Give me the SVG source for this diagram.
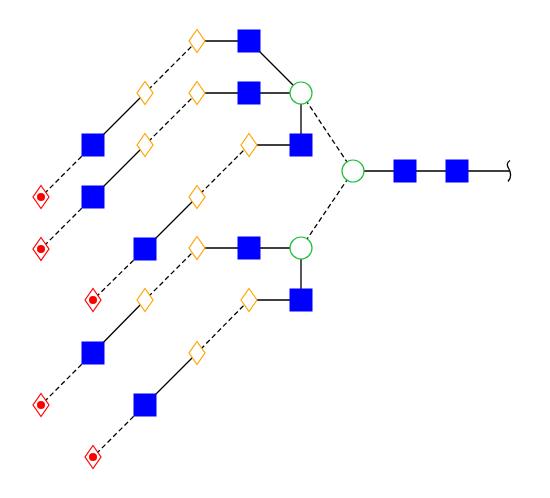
<svg xmlns="http://www.w3.org/2000/svg" width="550" height="498" viewBox="0 0 550 498">
<defs>
<style>
.e{stroke:#000;stroke-width:1.3;fill:none}
.d{stroke-dasharray:5,3}
.sq{fill:#0000ff}
.ci{fill:#fff;stroke:#22c03a;stroke-width:1.2}
.od{fill:#fff;stroke:#ffa500;stroke-width:1.2}
.rd{fill:#fff;stroke:#ff0000;stroke-width:1.2}
.dot{fill:#ff0000}
</style>
<rect id="sqs" class="sq" x="-11.5" y="-11.5" width="23" height="23"/>
<polygon id="dia" points="0,-11.5 8,0 0,11.5 -8,0"/>
</defs>
<rect width="550" height="498" fill="#fff"/>
<g id="connectors">
<path class="e" d="M249,41H197M145,93L93,145M249,41L301,93M249,93H301M249,93H197M145,145L93,197M301,93V145H249M197,197L145,249M353,171H510M301,248H197M145,300L93,353M301,248V300H249M197,353L145,405"/>
<path class="e d" d="M197,41L145,93M93,145L41,197M197,93L145,145M93,197L41,249M249,145L197,197M145,249L93,300M301,93L353,171M353,171L301,248M197,248L145,300M93,353L41,405M249,300L197,353M145,405L93,457"/>
<path class="e" d="M510,160.5C506,163 507,166 509,169C511,173 512,177 508,181.5" stroke-width="1"/>
</g>
<g id="n1"><use href="#sqs" x="249" y="41"/></g>
<g id="n2"><use href="#sqs" x="249" y="93"/></g>
<g id="n3"><use href="#sqs" x="301" y="145"/></g>
<g id="n4"><use href="#sqs" x="249" y="248"/></g>
<g id="n5"><use href="#sqs" x="301" y="300"/></g>
<g id="n6"><use href="#sqs" x="405" y="171"/></g>
<g id="n7"><use href="#sqs" x="457" y="171"/></g>
<g id="n8"><use href="#sqs" x="93" y="145"/></g>
<g id="n9"><use href="#sqs" x="93" y="197"/></g>
<g id="n10"><use href="#sqs" x="145" y="249"/></g>
<g id="n11"><use href="#sqs" x="93" y="353"/></g>
<g id="n12"><use href="#sqs" x="145" y="405"/></g>
<g id="c1"><circle class="ci" cx="301" cy="93" r="11"/></g>
<g id="c2"><circle class="ci" cx="353" cy="171" r="11"/></g>
<g id="c3"><circle class="ci" cx="301" cy="248" r="11"/></g>
<g id="o1"><use href="#dia" class="od" x="197" y="41"/></g>
<g id="o2"><use href="#dia" class="od" x="145" y="93"/></g>
<g id="o3"><use href="#dia" class="od" x="197" y="93"/></g>
<g id="o4"><use href="#dia" class="od" x="145" y="145"/></g>
<g id="o5"><use href="#dia" class="od" x="249" y="145"/></g>
<g id="o6"><use href="#dia" class="od" x="197" y="197"/></g>
<g id="o7"><use href="#dia" class="od" x="197" y="248"/></g>
<g id="o8"><use href="#dia" class="od" x="145" y="300"/></g>
<g id="o9"><use href="#dia" class="od" x="249" y="300"/></g>
<g id="o10"><use href="#dia" class="od" x="197" y="353"/></g>
<g id="r1"><use href="#dia" class="rd" x="41" y="197"/><circle class="dot" cx="41" cy="197" r="4"/></g>
<g id="r2"><use href="#dia" class="rd" x="41" y="249"/><circle class="dot" cx="41" cy="249" r="4"/></g>
<g id="r3"><use href="#dia" class="rd" x="93" y="300"/><circle class="dot" cx="93" cy="300" r="4"/></g>
<g id="r4"><use href="#dia" class="rd" x="41" y="405"/><circle class="dot" cx="41" cy="405" r="4"/></g>
<g id="r5"><use href="#dia" class="rd" x="93" y="457"/><circle class="dot" cx="93" cy="457" r="4"/></g>
</svg>
